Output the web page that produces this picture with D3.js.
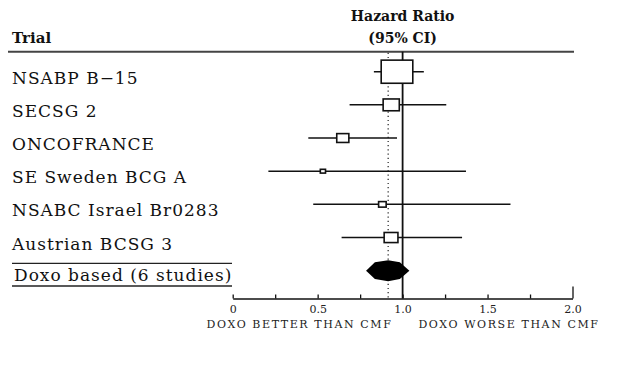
<!DOCTYPE html>
<html>
<head>
<meta charset="utf-8">
<script src="https://cdn.jsdelivr.net/npm/d3@7"></script>
<style>
  html, body { margin: 0; padding: 0; background: #fff; }
  svg { display: block; }
</style>
</head>
<body>
<div id="chart"></div>
<script>
// ---- data ----
const trials = ["NSABP B\u221215", "SECSG 2", "ONCOFRANCE", "SE Sweden BCG A", "NSABC Israel Br0283", "Austrian BCSG 3"];
const hazardRatio = [0.967, 0.933, 0.648, 0.531, 0.881, 0.932];
const ciLower = [0.831, 0.688, 0.445, 0.210, 0.474, 0.641];
const ciUpper = [1.125, 1.257, 0.967, 1.373, 1.635, 1.350];
const weights = [59.4, 15.5, 8.7, 1.6, 3.4, 11.3];
const pooledLabel = "Doxo based (6 studies)";
const pooledHR = 0.915;
const pooledLower = 0.785;
const pooledUpper = 1.04;
const tickValues = [0, 0.25, 0.5, 0.75, 1.0, 1.25, 1.5, 1.75, 2.0];
const tickLabels = { 0: "0", 0.5: "0.5", 1: "1.0", 1.5: "1.5", 2: "2.0" };
const headerTrial = "Trial";
const headerHR = ["Hazard Ratio", "(95% CI)"];
const footerLeft = "DOXO BETTER THAN CMF";
const footerRight = "DOXO WORSE THAN CMF";

// ---- layout ----
const W = 630, H = 376;
const svg = d3.select("#chart").append("svg").attr("width", W).attr("height", H);
const serif = "'DejaVu Serif', 'Liberation Serif', serif";

const x = d3.scaleLinear().domain([0, 2]).range([232.7, 572.5]);
const rowKeys = trials.concat([pooledLabel]);
const y = d3.scalePoint().domain(rowKeys).range([71.7, 270.7]);
const boxW = d3.scaleSqrt().domain([0, 100]).range([0, 41]);
const boxH = d3.scaleSqrt().domain([0, 100]).range([0, 30]);
const axisY = 298.5;
const headerLineY = 51.7;

// header
svg.append("text").attr("x", 12).attr("y", 43)
  .attr("font-family", serif).attr("font-weight", "bold").attr("font-size", 15)
  .attr("fill", "#111").text(headerTrial);
svg.append("text").attr("x", x(1)).attr("y", 21).attr("text-anchor", "middle")
  .attr("font-family", serif).attr("font-weight", "bold").attr("font-size", 14)
  .attr("fill", "#111").text(headerHR[0]);
svg.append("text").attr("x", x(1)).attr("y", 42.5).attr("text-anchor", "middle")
  .attr("font-family", serif).attr("font-weight", "bold").attr("font-size", 14)
  .attr("fill", "#111").text(headerHR[1]);
svg.append("line").attr("x1", 8).attr("x2", 574).attr("y1", headerLineY).attr("y2", headerLineY)
  .attr("stroke", "#444").attr("stroke-width", 2);

// reference lines
svg.append("line").attr("x1", x(pooledHR)).attr("x2", x(pooledHR))
  .attr("y1", headerLineY + 1).attr("y2", axisY)
  .attr("stroke", "#222").attr("stroke-width", 1.2).attr("stroke-dasharray", "1.2,3");
svg.append("line").attr("x1", x(1)).attr("x2", x(1))
  .attr("y1", headerLineY).attr("y2", axisY)
  .attr("stroke", "#111").attr("stroke-width", 1.8);

// trial rows
const rows = trials.map((t, i) => ({ t, hr: hazardRatio[i], lo: ciLower[i], hi: ciUpper[i], w: weights[i] }));
const g = svg.append("g");
g.selectAll("line.ci").data(rows).join("line").attr("class", "ci")
  .attr("x1", d => x(d.lo)).attr("x2", d => x(d.hi))
  .attr("y1", d => y(d.t)).attr("y2", d => y(d.t))
  .attr("stroke", "#111").attr("stroke-width", 1.5);
g.selectAll("rect.box").data(rows).join("rect").attr("class", "box")
  .attr("x", d => x(d.hr) - boxW(d.w) / 2).attr("y", d => y(d.t) - boxH(d.w) / 2)
  .attr("width", d => boxW(d.w)).attr("height", d => boxH(d.w))
  .attr("fill", "#fff").attr("stroke", "#111").attr("stroke-width", 1.6);
g.selectAll("text.lbl").data(rows).join("text").attr("class", "lbl")
  .attr("x", 12).attr("y", d => y(d.t) + 12)
  .attr("font-family", serif).attr("font-size", 17).attr("letter-spacing", 1)
  .attr("fill", "#111").text(d => d.t);

// pooled
const py = y(pooledLabel);
const dh = 10.5;
const diamondPts = [
  [x(pooledLower), py],
  [x(pooledLower + (pooledHR - pooledLower) * 0.4), py - dh * 0.8],
  [x(pooledHR), py - dh],
  [x(pooledHR + (pooledUpper - pooledHR) * 0.55), py - dh * 0.8],
  [x(pooledUpper), py],
  [x(pooledHR + (pooledUpper - pooledHR) * 0.55), py + dh * 0.8],
  [x(pooledHR), py + dh],
  [x(pooledLower + (pooledHR - pooledLower) * 0.4), py + dh * 0.8]
];
svg.append("path").attr("d", d3.line()(diamondPts) + "Z").attr("fill", "#000");
svg.append("line").attr("x1", 12).attr("x2", 232).attr("y1", py - 7.4).attr("y2", py - 7.4)
  .attr("stroke", "#222").attr("stroke-width", 1.3);
svg.append("line").attr("x1", 12).attr("x2", 232).attr("y1", py + 15.3).attr("y2", py + 15.3)
  .attr("stroke", "#222").attr("stroke-width", 1.3);
svg.append("text").attr("x", 14).attr("y", py + 10)
  .attr("font-family", serif).attr("font-size", 17).attr("letter-spacing", 1)
  .attr("fill", "#111").text(pooledLabel);

// axis
const axis = d3.axisBottom(x).tickValues(tickValues).tickSize(-4).tickSizeOuter(0).tickPadding(7)
  .tickFormat(d => tickLabels[d] !== undefined ? tickLabels[d] : "");
const ax = svg.append("g").attr("transform", `translate(0,${axisY})`).call(axis);
ax.select(".domain").attr("stroke", "#111").attr("stroke-width", 1.5);
ax.selectAll(".tick line").attr("stroke", "#111").attr("stroke-width", 1.3)
  .attr("y2", d => d === 2 ? -12 : -4);
ax.selectAll(".tick text").attr("font-family", serif).attr("font-size", 11).attr("fill", "#222");

// footer labels
svg.append("text").attr("x", 299.5).attr("y", 327.5).attr("text-anchor", "middle")
  .attr("font-family", serif).attr("font-size", 11).attr("letter-spacing", 1.6)
  .attr("fill", "#222").text(footerLeft);
svg.append("text").attr("x", 509).attr("y", 327.5).attr("text-anchor", "middle")
  .attr("font-family", serif).attr("font-size", 11).attr("letter-spacing", 1.6)
  .attr("fill", "#222").text(footerRight);
</script>
</body>
</html>
